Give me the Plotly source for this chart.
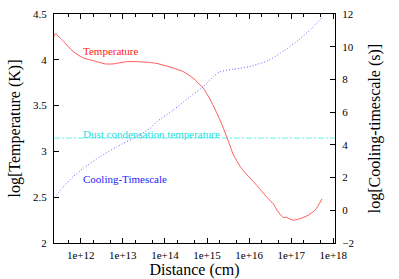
import plotly.graph_objects as go

# Temperature curve: log10(distance/cm), log10(T/K)
temp_logd = [11.37, 11.40, 11.59, 11.82, 12.06, 12.30, 12.58, 12.77, 13.09, 13.33, 13.65,
             13.81, 14.20, 14.44, 14.67, 14.91, 15.07, 15.20, 15.33, 15.50, 15.62,
             15.78, 15.90, 16.18, 16.42, 16.57, 16.69, 16.81, 16.89, 16.93, 17.05, 17.17,
             17.37, 17.57, 17.73]
temp_logT = [4.26, 4.285, 4.20, 4.09, 4.02, 3.99, 3.955, 3.955, 3.98, 3.98, 3.97,
             3.96, 3.91, 3.87, 3.80, 3.69, 3.57, 3.45, 3.32, 3.12, 2.97,
             2.84, 2.77, 2.63, 2.50, 2.43, 2.34, 2.28, 2.28, 2.27, 2.25, 2.26,
             2.295, 2.36, 2.48]

# Cooling timescale: log10(distance/cm), log10(t/s)
cool_logd = [11.37, 11.59, 11.82, 12.06, 12.46, 12.86, 13.25, 13.65, 13.81, 14.20, 14.60,
             14.91, 15.15, 15.31, 15.62, 16.00, 16.45, 16.83, 17.17, 17.48, 17.73]
cool_logt = [0.75, 1.44, 2.06, 2.57, 3.28, 3.89, 4.40, 5.01, 5.42, 6.13, 6.95,
             7.56, 8.17, 8.47, 8.62, 8.78, 9.15, 9.75, 10.40, 11.10, 11.80]

dust_logT = 3.146  # ~1400 K

x_range_log = [11.365, 18.04]
x_major = [12, 13, 14, 15, 16, 17, 18]
x_labels = ["1e+12", "1e+13", "1e+14", "1e+15", "1e+16", "1e+17", "1e+18"]
y1_ticks = [2, 2.5, 3, 3.5, 4, 4.5]
y1_labels = ["2", "2.5", "3", "3.5", "4", "4.5"]
y2_ticks = [-2, 0, 2, 4, 6, 8, 10, 12]

td = [10 ** v for v in temp_logd]
cd = [10 ** v for v in cool_logd]
minor_vals = []
for e in range(11, 19):
    for m in (2, 5):
        minor_vals.append(m * 10 ** e)

FONT = "Liberation Serif, Times New Roman, serif"

fig = go.Figure()
fig.add_trace(go.Scatter(x=[10 ** x_range_log[0], 10 ** x_range_log[1]], y=[dust_logT, dust_logT],
                         mode="lines", line=dict(color="#66eeee", width=1, dash="6px,2px,2px,2px"),
                         showlegend=False, hoverinfo="skip"))
fig.add_trace(go.Scatter(x=td, y=temp_logT, mode="lines",
                         line=dict(color="#ff5555", width=1, shape="spline", smoothing=0.5),
                         showlegend=False))
fig.add_trace(go.Scatter(x=cd, y=cool_logt, mode="lines", yaxis="y2",
                         line=dict(color="#6666ff", width=1, dash="1px,2px", shape="spline", smoothing=0.5),
                         showlegend=False))

fig.add_annotation(x=12.0, y=4.1, xref="x", yref="y", text="Temperature", showarrow=False,
                   xanchor="left", yanchor="middle", font=dict(family=FONT, size=11, color="#ff2222"))
fig.add_annotation(x=12.0, y=3.195, xref="x", yref="y", text="Dust condensation temperature",
                   showarrow=False, xanchor="left", yanchor="middle",
                   font=dict(family=FONT, size=11, color="#22e0e0"))
fig.add_annotation(x=12.0, y=2.7, xref="x", yref="y", text="Cooling-Timescale", showarrow=False,
                   xanchor="left", yanchor="middle", font=dict(family=FONT, size=11, color="#2222ff"))

fig.update_layout(
    width=399, height=279,
    margin=dict(l=54, r=64, t=14, b=36, autoexpand=False),
    paper_bgcolor="white", plot_bgcolor="white",
    font=dict(family=FONT, size=11, color="black"),
    showlegend=False,
    xaxis=dict(type="log", range=x_range_log, tickmode="array",
               tickvals=[10 ** v for v in x_major], ticktext=x_labels,
               ticks="inside", ticklen=5, tickcolor="black", showline=True, linecolor="black",
               linewidth=1, mirror="ticks", showgrid=False, zeroline=False, automargin=False,
               ticklabelstandoff=2,
               minor=dict(tickmode="array", tickvals=minor_vals, ticks="inside", ticklen=3,
                          tickcolor="black", showgrid=False),
               title=dict(text="Distance (cm)", font=dict(family=FONT, size=16), standoff=2),
               tickfont=dict(family=FONT, size=11)),
    yaxis=dict(range=[2, 4.5], tickvals=y1_ticks, ticktext=y1_labels,
               ticks="inside", ticklen=5, tickcolor="black", showline=True, linecolor="black",
               linewidth=1, showgrid=False, zeroline=False, automargin=False,
               ticklabelstandoff=4,
               title=dict(text="log[Temperature (K)]", font=dict(family=FONT, size=16), standoff=8),
               tickfont=dict(family=FONT, size=11)),
    yaxis2=dict(range=[-2, 12], tickvals=y2_ticks, overlaying="y", side="right",
                ticks="inside", ticklen=5, tickcolor="black", showline=True, linecolor="black",
                linewidth=1, showgrid=False, zeroline=False, automargin=False,
                ticklabelstandoff=4,
                title=dict(text="log[Cooling-timescale (s)]", font=dict(family=FONT, size=16), standoff=15),
                tickfont=dict(family=FONT, size=11)),
)

fig.write_html("out.html", config={"displayModeBar": False},
               post_script="document.body.style.margin='0px';")
